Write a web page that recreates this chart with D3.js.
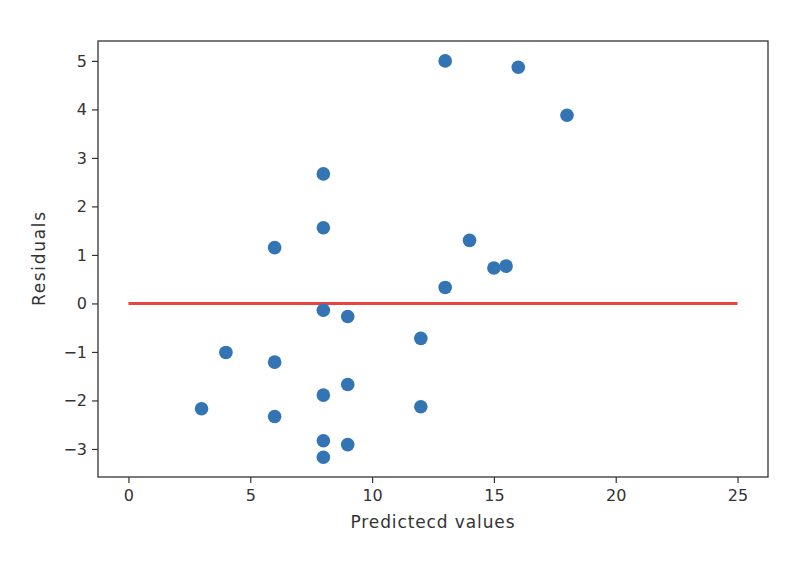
<!DOCTYPE html>
<html><head><meta charset="utf-8">
<script src="https://cdn.jsdelivr.net/npm/d3@7"></script>
<style>body{margin:0;background:#fff}svg{display:block}</style>
</head><body>
<svg id="c" width="794" height="564"></svg>
<script>
const predicted = [3,4,6,6,6,8,8,8,8,8,8,9,9,9,12,12,13,13,14,15,15.5,16,18];
const residuals = [-2.17,-1.01,1.15,-1.21,-2.33,2.67,1.56,-0.14,-1.89,-2.83,-3.17,-0.27,-1.67,-2.91,-0.72,-2.13,5.0,0.33,1.3,0.73,0.77,4.87,3.88];
const zeroLineX = [0,25];
const xTicks = [0,5,10,15,20,25];
const yTicks = [-3,-2,-1,0,1,2,3,4,5];

const svg = d3.select('#c');
const L=98, R=768, T=41, B=477;
const x = d3.scaleLinear().domain([-1.25,26.25]).range([L,R]);
const y = d3.scaleLinear().domain([-3.578,5.41]).range([B,T]);
const font = '"DejaVu Sans", sans-serif';
const fmt = d => d<0 ? '\u2212'+Math.abs(d) : String(d);

// zero line
svg.append('line')
  .attr('x1',x(zeroLineX[0])).attr('x2',x(zeroLineX[1]))
  .attr('y1',y(0)).attr('y2',y(0))
  .attr('stroke','#e8453f').attr('stroke-width',3);

// points
svg.append('g').selectAll('circle').data(predicted).join('circle')
  .attr('cx',(d)=>x(d)).attr('cy',(d,i)=>y(residuals[i]))
  .attr('r',6.8).attr('fill','#3274b4');

// axes
const xa = svg.append('g').attr('transform',`translate(0,${B})`)
  .call(d3.axisBottom(x).tickValues(xTicks).tickSize(6).tickPadding(7).tickFormat(fmt));
const ya = svg.append('g').attr('transform',`translate(${L},0)`)
  .call(d3.axisLeft(y).tickValues(yTicks).tickSize(6).tickPadding(5).tickFormat(fmt));
[xa,ya].forEach(a=>{
  a.select('.domain').remove();
  a.selectAll('.tick line').attr('stroke','#333').attr('stroke-width',1.2);
  a.selectAll('.tick text').attr('fill','#333').style('font-family',font).style('font-size','16px');
});

// frame
svg.append('rect').attr('x',L).attr('y',T).attr('width',R-L).attr('height',B-T)
  .attr('fill','none').attr('stroke','#333').attr('stroke-width',1.3);

// labels
svg.append('text').attr('x',(L+R)/2 - 0.5).attr('y',528).attr('text-anchor','middle')
  .attr('textLength',164).attr('lengthAdjust','spacing')
  .style('font-family',font).style('font-size','17px').attr('fill','#333').text('Predictecd values');
svg.append('text').attr('transform',`translate(45,${(T+B)/2}) rotate(-90)`).attr('text-anchor','middle')
  .attr('textLength',94).attr('lengthAdjust','spacing')
  .style('font-family',font).style('font-size','17px').attr('fill','#333').text('Residuals');
</script>
</body></html>
